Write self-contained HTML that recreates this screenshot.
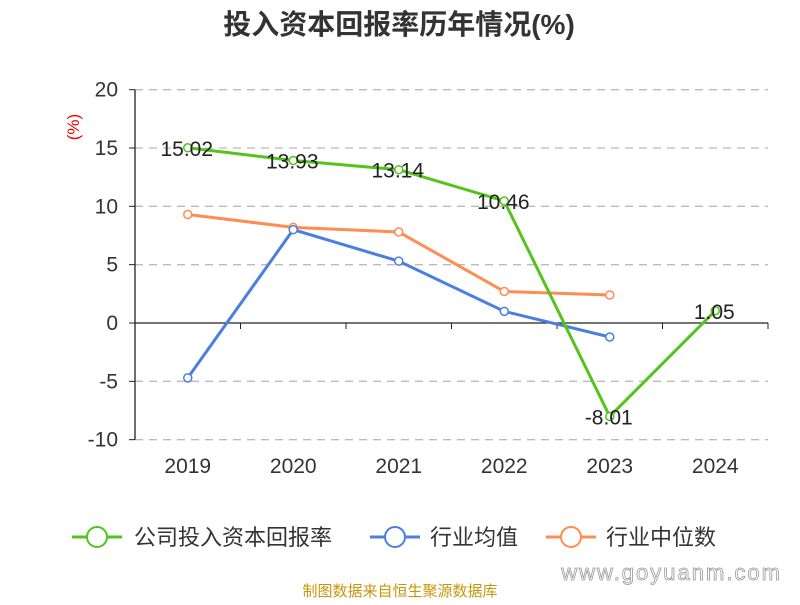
<!DOCTYPE html>
<html><head><meta charset="utf-8"><style>
body{margin:0;background:#fff;width:800px;height:600px;overflow:hidden;font-family:"Liberation Sans","Noto Sans CJK SC",sans-serif}
</style></head><body>
<svg id="c" width="800" height="600" xmlns="http://www.w3.org/2000/svg" font-family="Liberation Sans, Noto Sans CJK SC, sans-serif">
<text x="399" y="34" text-anchor="middle" font-size="28" font-weight="bold" fill="#333">投入资本回报率历年情况(%)</text>
<text x="79" y="127" transform="rotate(-90 79 127)" text-anchor="middle" font-size="17" fill="#e00">(%)</text>
<g id="grid"></g><g id="axes"></g><g id="series"></g>
<g>
<g><line x1="72" y1="537" x2="122" y2="537" stroke="#52c41a" stroke-width="3"/><circle cx="97" cy="537" r="10" fill="#fff" stroke="#52c41a" stroke-width="2"/><text x="134" y="545" font-size="22" fill="#333">公司投入资本回报率</text></g>
<g><line x1="370" y1="537" x2="420" y2="537" stroke="#4a7ee0" stroke-width="3"/><circle cx="395" cy="537" r="10" fill="#fff" stroke="#4a7ee0" stroke-width="2"/><text x="430" y="545" font-size="22" fill="#333">行业均值</text></g>
<g><line x1="546" y1="537" x2="596" y2="537" stroke="#ff8c50" stroke-width="3"/><circle cx="571" cy="537" r="10" fill="#fff" stroke="#ff8c50" stroke-width="2"/><text x="606" y="545" font-size="22" fill="#333">行业中位数</text></g>
</g>
<text x="400" y="596" text-anchor="middle" font-size="15" fill="#c8960a">制图数据来自恒生聚源数据库</text>
<text x="782" y="580" text-anchor="end" font-size="22" fill="#fff" stroke="#999" stroke-width="0.8" letter-spacing="2">www.goyuanm.com</text>
</svg>
<script>
const categories=["2019","2020","2021","2022","2023","2024"];
const company=[15.02,13.93,13.14,10.46,-8.01,1.05];
const industryAvg=[-4.7,8.0,5.3,1.0,-1.2,null];
const industryMedian=[9.3,8.2,7.8,2.7,2.4,null];
const yTicks=[20,15,10,5,0,-5,-10];
const NS="http://www.w3.org/2000/svg";
const x0=135,x1=768,bw=(x1-x0)/categories.length;
const xs=i=>x0+bw*(i+0.5);
const ys=v=>323-v*(350/30);
function mk(p,t,a){const e=document.createElementNS(NS,t);for(const k in a)e.setAttribute(k,a[k]);p.appendChild(e);return e;}
const g=document.getElementById('grid'),ax=document.getElementById('axes'),s=document.getElementById('series');
yTicks.forEach(v=>{
 if(v!==0){const l=mk(g,'line',{x1:x0,x2:x1,y1:ys(v),y2:ys(v),stroke:'#bbb','stroke-width':1.3,'stroke-dasharray':'8,6'});
 }
 const t=mk(ax,'text',{x:118,y:ys(v)+7,'text-anchor':'end','font-size':21,fill:'#333'});t.textContent=v;
 
 mk(ax,'line',{x1:x0-6,x2:x0,y1:ys(v),y2:ys(v),stroke:'#222'});
});
const ya=mk(ax,'line',{x1:x0,x2:x0,y1:ys(20),y2:ys(-10),stroke:'#222','stroke-width':1.3});

const xa=mk(ax,'line',{x1:x0,x2:x1,y1:ys(0),y2:ys(0),stroke:'#222','stroke-width':1.3});

for(let i=0;i<=categories.length;i++)mk(ax,'line',{x1:x0+bw*i,x2:x0+bw*i,y1:ys(0),y2:ys(0)+6,stroke:'#222'});
categories.forEach((c,i)=>{const t=mk(ax,'text',{x:xs(i),y:473,'text-anchor':'middle','font-size':21,fill:'#333'});t.textContent=c;
 });
function series(arr,col,name,labels){
 const pts=arr.map((v,i)=>v==null?null:[xs(i),ys(v)]).filter(p=>p);
 const pl=mk(s,'polyline',{points:pts.map(p=>p.join(',')).join(' '),fill:'none',stroke:col,'stroke-width':3});
 
 arr.forEach((v,i)=>{if(v==null)return;
  const c=mk(s,'circle',{cx:xs(i),cy:ys(v),r:4,fill:'#fff',stroke:col,'stroke-width':1.5});
  
  if(labels){const t=mk(s,'text',{x:xs(i)-1,y:ys(v)+8,'text-anchor':'middle','font-size':21,fill:'#222'});t.textContent=v.toFixed(2);
   }
 });
}
series(industryMedian,'#ff8c50','industry-median',false);
series(industryAvg,'#4a7ee0','industry-avg',false);
series(company,'#52c41a','company',true);
</script>
</body></html>
